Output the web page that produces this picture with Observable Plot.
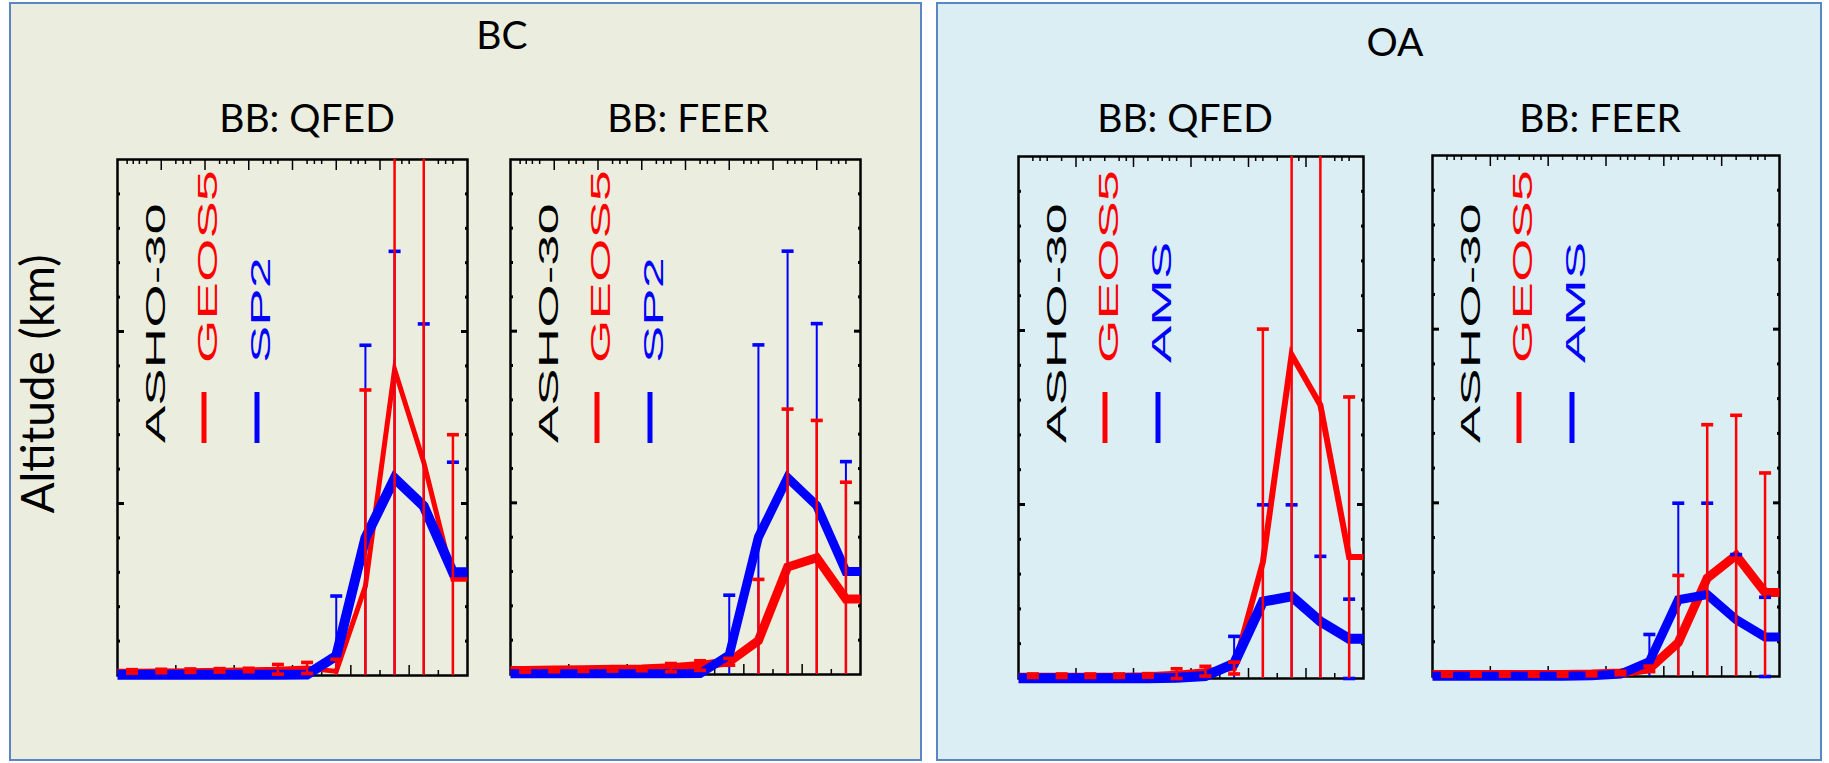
<!DOCTYPE html>
<html>
<head>
<meta charset="utf-8">
<script src="https://cdn.jsdelivr.net/npm/d3@7"></script>
<script src="https://cdn.jsdelivr.net/npm/@observablehq/plot@0.6"></script>
<style>
  body { margin: 0; background: #ffffff; }
  #root { position: relative; width: 1829px; height: 763px; overflow: hidden; }
  .box { position: absolute; box-sizing: border-box; border: 2px solid #5A86C4; }
  .panel { position: absolute; }
  .panel svg { overflow: visible; }
  #overlay { position: absolute; left: 0; top: 0; pointer-events: none; }
</style>
</head>
<body>
<div id="root"></div>
<script>
// ---------------- data ----------------
// altitude bins (bin centres, arbitrary units along the horizontal axis)
const xBins = [0.5, 1.5, 2.5, 3.5, 4.5, 5.5, 6.5, 7.5, 8.5, 9.5, 10.5, 11.5];
const xEdges = [0, 12];

// BC — observations (SP2), same in both BC panels
const sp2 = [0.02, 0.02, 0.02, 0.02, 0.02, 0.02, 0.03, 0.57, 4.0, 5.73, 4.92, 3.0];
const sp2Err = [0.0, 0.0, 0.0, 0.0, 0.0, 0.0, 0.0, 1.74, 5.6, 6.6, 5.3, 3.2];

// BC — GEOS5 with QFED biomass burning
const geosBcQfed = [0.12, 0.13, 0.14, 0.15, 0.16, 0.18, 0.22, 0.12, 2.6, 8.9, 6.2, 2.8];
const geosBcQfedErr = [0.05, 0.05, 0.05, 0.05, 0.05, 0.14, 0.16, 0.35, 5.7, 10, 9.5, 4.2];

// BC — GEOS5 with FEER biomass burning
const geosBcFeer = [0.12, 0.13, 0.14, 0.15, 0.16, 0.2, 0.26, 0.37, 0.99, 3.13, 3.4, 2.2];
const geosBcFeerErr = [0.05, 0.05, 0.05, 0.05, 0.05, 0.12, 0.14, 0.1, 1.78, 4.6, 4.0, 3.4];

// OA — observations (AMS), same in both OA panels
const ams = [0.01, 0.01, 0.01, 0.01, 0.01, 0.02, 0.07, 0.43, 2.21, 2.36, 1.64, 1.14];
const amsErr = [0.0, 0.0, 0.0, 0.0, 0.0, 0.0, 0.02, 0.78, 2.78, 2.63, 1.87, 1.14];

// OA — GEOS5 with QFED
const geosOaQfed = [0.08, 0.08, 0.08, 0.08, 0.09, 0.14, 0.21, 0.3, 3.34, 9.3, 7.86, 3.49];
const geosOaQfedErr = [0.05, 0.05, 0.05, 0.05, 0.05, 0.14, 0.14, 0.17, 6.7, 10, 9, 4.6];

// OA — GEOS5 with FEER
const geosOaFeer = [0.06, 0.06, 0.06, 0.06, 0.06, 0.07, 0.1, 0.22, 0.98, 2.83, 3.49, 2.42];
const geosOaFeerErr = [0.05, 0.05, 0.05, 0.05, 0.05, 0.05, 0.05, 0.08, 1.93, 4.42, 4.03, 3.44];

// tick values
const yMinorTicks = [1, 2, 3, 4, 6, 7, 8, 9, 11, 12, 13, 14];
const yMajorTicks = [5, 10];
const bcTopMajor = [1.5, 3, 4.5, 6, 7.5, 9, 10.5];
const bcTopMinor = [0.33, 0.54, 0.75, 1.0, 2.0, 2.25, 2.5, 3.5, 3.75, 4.0, 5.0, 5.25, 5.5, 6.5, 6.75, 7.0, 8.0, 8.25, 8.5, 9.5, 9.75, 10.0, 11.0, 11.25, 11.5];
const oaTopMajor = [2, 4, 6, 8, 10];
const oaTopMinor = [0.5, 0.75, 1.0, 1.5, 2.25, 2.5, 3.0, 3.5, 3.75, 4.5, 5.0, 5.25, 5.5, 6.5, 6.75, 7.0, 7.5, 8.25, 8.5, 9.0, 9.5, 9.75, 10.5, 11.0, 11.25, 11.5];
const bottomMajor = [2, 4, 6, 8, 10];
const bottomMinor = [1, 3, 5, 7, 9, 11];

// texts
const groupTitles = ["BC", "OA"];
const panelTitles = ["BB: QFED", "BB: FEER", "BB: QFED", "BB: FEER"];
const yLabel = "Altitude (km)";
const legendBC = ["ASHO-30", "GEOS5", "SP2"];
const legendOA = ["ASHO-30", "GEOS5", "AMS"];

// ---------------- drawing ----------------
const RED = "#ff0000", BLUE = "#0000ff";
const root = document.getElementById("root");

function addBox(left, top, width, height, bg) {
  const d = document.createElement("div");
  d.className = "box";
  Object.assign(d.style, {left: left + "px", top: top + "px", width: width + "px", height: height + "px", background: bg});
  root.appendChild(d);
}
addBox(9, 2, 913, 759, "#EBEEDF");
addBox(936, 2, 886, 759, "#DBEEF3");

function lineData(vals) {
  return [
    {x: xEdges[0], y: vals[0]},
    ...xBins.map((x, i) => ({x, y: vals[i]})),
    {x: xEdges[1], y: vals[vals.length - 1]}
  ];
}
function errData(vals, errs) {
  return xBins.map((x, i) => ({x, v: vals[i], e: errs[i]}));
}
function capData(vals, errs) {
  const out = [];
  xBins.forEach((x, i) => {
    out.push({x, y: vals[i] + errs[i]});
    out.push({x, y: vals[i] - errs[i]});
  });
  return out;
}
const capSymbol = {
  draw(context) {
    const w = 6, h = 1.8;
    context.moveTo(-w, -h); context.lineTo(w, -h); context.lineTo(w, h); context.lineTo(-w, h); context.closePath();
  }
};

const panels = [
  {L: 117, R: 467, T: 159, B: 675, red: geosBcQfed, redErr: geosBcQfedErr, blue: sp2, blueErr: sp2Err, redW: 5, blueW: 10, topMajor: bcTopMajor, topMinor: bcTopMinor, legend: legendBC},
  {L: 510, R: 860, T: 159, B: 674, red: geosBcFeer, redErr: geosBcFeerErr, blue: sp2, blueErr: sp2Err, redW: 9, blueW: 9, topMajor: bcTopMajor, topMinor: bcTopMinor, legend: legendBC},
  {L: 1018, R: 1363, T: 156, B: 678, red: geosOaQfed, redErr: geosOaQfedErr, blue: ams, blueErr: amsErr, redW: 6, blueW: 10, topMajor: oaTopMajor, topMinor: oaTopMinor, legend: legendOA},
  {L: 1432, R: 1779, T: 155, B: 676, red: geosOaFeer, redErr: geosOaFeerErr, blue: ams, blueErr: amsErr, redW: 9, blueW: 9, topMajor: oaTopMajor, topMinor: oaTopMinor, legend: legendOA}
];

const noLabel = () => "";
function errMarks(vals, errs, color, w) {
  return [
    Plot.ruleX(errData(vals, errs), {x: "x", y1: d => d.v - d.e, y2: d => d.v + d.e, stroke: color, strokeWidth: w, clip: true}),
    Plot.dot(capData(vals, errs), {x: "x", y: "y", symbol: capSymbol, fill: color, stroke: "none", filter: d => d.y >= -0.08 && d.y <= 15.08})
  ];
}

panels.forEach(p => {
  const m = 14;
  const chart = Plot.plot({
    width: p.R - p.L + 2 * m,
    height: p.B - p.T + 2 * m,
    marginLeft: m, marginRight: m, marginTop: m, marginBottom: m,
    style: {background: "transparent", overflow: "visible"},
    x: {domain: [0, 12]},
    y: {domain: [0, 15]},
    marks: [
      Plot.frame({stroke: "#000", strokeWidth: 2.5}),
      Plot.axisY(yMinorTicks, {anchor: "left", tickSize: -3, strokeWidth: 3, tickFormat: noLabel, label: null}),
      Plot.axisY(yMajorTicks, {anchor: "left", tickSize: -7, strokeWidth: 3, tickFormat: noLabel, label: null}),
      Plot.axisY(yMinorTicks, {anchor: "right", tickSize: -3, strokeWidth: 3, tickFormat: noLabel, label: null}),
      Plot.axisY(yMajorTicks, {anchor: "right", tickSize: -7, strokeWidth: 3, tickFormat: noLabel, label: null}),
      Plot.axisX(p.topMinor, {anchor: "top", tickSize: -4, strokeWidth: 1.5, tickFormat: noLabel, label: null}),
      Plot.axisX(p.topMajor, {anchor: "top", tickSize: -10, strokeWidth: 1.5, tickFormat: noLabel, label: null}),
      Plot.axisX(bottomMinor, {anchor: "bottom", tickSize: -5, strokeWidth: 1.5, tickFormat: noLabel, label: null}),
      Plot.axisX(bottomMajor, {anchor: "bottom", tickSize: -10, strokeWidth: 1.5, tickFormat: noLabel, label: null}),
      Plot.line(lineData(p.red), {x: "x", y: "y", stroke: RED, strokeWidth: p.redW, strokeLinejoin: "miter", strokeLinecap: "butt", strokeMiterlimit: 6}),
      Plot.line(lineData(p.blue), {x: "x", y: "y", stroke: BLUE, strokeWidth: p.blueW, strokeLinejoin: "miter", strokeLinecap: "butt", strokeMiterlimit: 6}),
      ...errMarks(p.blue, p.blueErr, BLUE, 2),
      ...errMarks(p.red, p.redErr, RED, 2.5)
    ]
  });
  const wrap = document.createElement("div");
  wrap.className = "panel";
  wrap.style.left = (p.L - m) + "px";
  wrap.style.top = (p.T - m) + "px";
  wrap.appendChild(chart);
  root.appendChild(wrap);
});

// overlay: titles, axis label, in-plot legends
const svg = d3.select(root).append("svg").attr("id", "overlay").attr("width", 1829).attr("height", 763);
const titleFont = "Lato, 'Open Sans', sans-serif";
[[groupTitles[0], 502, 49], [groupTitles[1], 1395, 56]].forEach(([t, x, y]) => {
  svg.append("text").attr("x", x).attr("y", y).attr("text-anchor", "middle")
    .attr("font-family", titleFont).attr("font-size", 39).attr("fill", "#000").text(t);
});
[[panelTitles[0], 307], [panelTitles[1], 688], [panelTitles[2], 1185], [panelTitles[3], 1600]].forEach(([t, x]) => {
  svg.append("text").attr("x", x).attr("y", 132).attr("text-anchor", "middle")
    .attr("font-family", titleFont).attr("font-size", 39).attr("fill", "#000").text(t);
});
svg.append("text").attr("transform", "translate(54,384) rotate(-90)").attr("text-anchor", "middle")
  .attr("font-family", titleFont).attr("font-size", 46).attr("fill", "#000").text(yLabel);

const legColors = ["#000", RED, BLUE];
panels.forEach(p => {
  const baseX = [48, 100, 153];
  const startY = [443, 363, 363];
  p.legend.forEach((t, i) => {
    svg.append("text")
      .attr("transform", `translate(${p.L + baseX[i]},${startY[i]}) rotate(-90) scale(2,1)`)
      .attr("font-family", "'Liberation Sans', Arial, sans-serif").attr("font-size", 28)
      .attr("fill", legColors[i]).text(t);
  });
  [[87, RED], [140, BLUE]].forEach(([dx, c]) => {
    svg.append("line").attr("x1", p.L + dx).attr("x2", p.L + dx).attr("y1", 392).attr("y2", 443)
      .attr("stroke", c).attr("stroke-width", 5);
  });
});
</script>
</body>
</html>
